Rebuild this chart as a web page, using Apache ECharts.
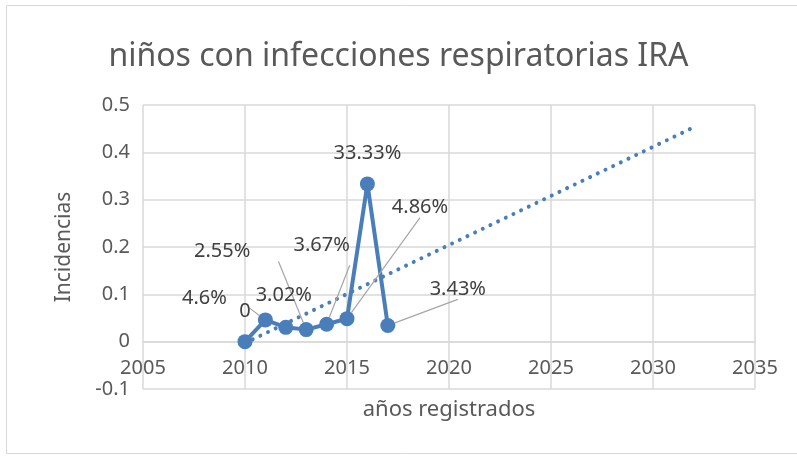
<!DOCTYPE html>
<html lang="es">
<head>
    <meta charset="UTF-8">
    <style>
        html, body { margin: 0; padding: 0; background: #fff; }
        #chart { width: 797px; height: 458px; }
    </style>
</head>
<body>
    <div id="chart"></div>
    <script src="https://cdn.jsdelivr.net/npm/echarts@6/dist/echarts.min.js"></script>
    <script>
        // datos
        const years = [2010, 2011, 2012, 2013, 2014, 2015, 2016, 2017];
        const incidencias = [0, 0.046, 0.0302, 0.0255, 0.0367, 0.0486, 0.3333, 0.0343];
        // linea de tendencia (extremos leidos)
        const trendYears = [2010, 2032];
        const trendValues = [-0.003, 0.453];

        // posicion de las etiquetas relativa al punto [dx, dy, con linea guia]
        const labelPos = [
            [0, -30, false],
            [-61, -22, true],
            [-2, -32, false],
            [-84, -78, true],
            [-5, -79, true],
            [73, -111, true],
            [0, -31, false],
            [70, -36, true]
        ];

        const blue = '#4A7EBB';
        const grey = '#595959';
        const font = 'Noto Sans';

        function pct(v) {
            if (v === 0) return '0';
            return parseFloat((v * 100).toFixed(2)) + '%';
        }

        const points = years.map((y, i) => ({
            value: [y, incidencias[i]],
            label: { offset: [labelPos[i][0], labelPos[i][1]] },
            labelLine: { show: labelPos[i][2] }
        }));

        const chart = echarts.init(document.getElementById('chart'));
        chart.setOption({
            animation: false,
            title: {
                text: 'niños con infecciones respiratorias IRA',
                left: 'center',
                top: 36,
                textStyle: { fontFamily: font, fontSize: 32, fontWeight: 'normal', color: grey }
            },
            graphic: [{
                type: 'rect',
                shape: { x: 6.5, y: 5.5, width: 800, height: 448 },
                style: { fill: 'none', stroke: '#d9d9d9', lineWidth: 1 },
                silent: true
            }],
            grid: { left: 143, right: 42, top: 105, bottom: 69 },
            xAxis: {
                type: 'value',
                min: 2005,
                max: 2035,
                interval: 5,
                name: 'años registrados',
                nameLocation: 'middle',
                nameGap: 10,
                nameTextStyle: { fontFamily: font, fontSize: 22, color: grey, verticalAlign: 'top' },
                axisLine: { lineStyle: { color: '#d9d9d9', width: 1.5 } },
                axisTick: { show: false },
                axisLabel: {
                    fontFamily: font, fontSize: 20, color: grey, margin: -31,
                    formatter: v => String(v)
                },
                splitLine: { lineStyle: { color: '#d9d9d9', width: 1.5 } }
            },
            yAxis: {
                type: 'value',
                min: -0.1,
                max: 0.5,
                interval: 0.1,
                name: 'Incidencias',
                nameLocation: 'middle',
                nameGap: 68,
                nameTextStyle: { fontFamily: font, fontSize: 21, color: grey },
                axisLine: { show: false },
                axisTick: { show: false },
                axisLabel: {
                    fontFamily: font, fontSize: 20, color: grey, margin: 13,
                    formatter: v => String(parseFloat(v.toFixed(2)))
                },
                splitLine: { lineStyle: { color: '#d9d9d9', width: 1.5 } }
            },
            series: [
                {
                    type: 'line',
                    data: trendYears.map((y, i) => [y, trendValues[i]]),
                    showSymbol: false,
                    silent: true,
                    lineStyle: { color: blue, width: 4, type: [0.01, 8.5], cap: 'round' },
                    z: 1
                },
                {
                    type: 'line',
                    data: points,
                    symbol: 'circle',
                    symbolSize: 15,
                    itemStyle: { color: blue },
                    lineStyle: { color: blue, width: 4 },
                    label: {
                        show: true,
                        position: 'inside',
                        fontFamily: font,
                        fontSize: 20,
                        color: '#404040',
                        formatter: p => pct(p.value[1])
                    },
                    labelLine: { lineStyle: { color: '#a6a6a6', width: 1.2 } },
                    z: 2
                }
            ]
        });
    </script>
</body>
</html>
